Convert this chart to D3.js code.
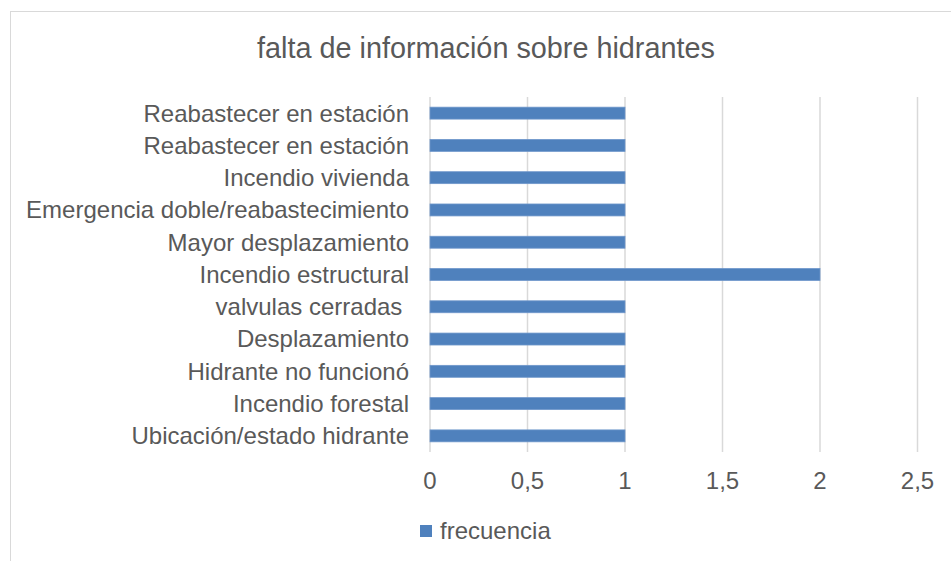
<!DOCTYPE html>
<html><head><meta charset="utf-8">
<script src="https://cdn.jsdelivr.net/npm/d3@7"></script>
<style>body{margin:0;background:#fff}svg{display:block}text{font-family:"Liberation Sans",Arial,sans-serif;white-space:pre}</style>
</head><body>
<svg id="c" width="951" height="561"></svg>
<script>
const categories = ["Reabastecer en estación","Reabastecer en estación","Incendio vivienda","Emergencia doble/reabastecimiento","Mayor desplazamiento","Incendio estructural","valvulas cerradas ","Desplazamiento","Hidrante no funcionó","Incendio forestal","Ubicación/estado hidrante"];
const values = [1,1,1,1,1,2,1,1,1,1,1];
const ticks = [0,0.5,1,1.5,2,2.5];
const title = "falta de información sobre hidrantes";
const seriesName = "frecuencia";

const svg = d3.select("#c");
svg.append("rect").attr("x",10.5).attr("y",11.5).attr("width",960).attr("height",600)
  .attr("fill","#fff").attr("stroke","#d9d9d9");
svg.append("text").attr("x",486).attr("y",58).attr("text-anchor","middle")
  .attr("font-size",28.8).attr("fill","#595959").text(title);

const x = d3.scaleLinear().domain([0,2.5]).range([430,917.5]);
const y = d3.scaleBand().domain(d3.range(categories.length)).range([97,452]).paddingInner(0.63).paddingOuter(0.315);

svg.append("g").selectAll("line").data(ticks).join("line")
  .attr("x1",d=>x(d)).attr("x2",d=>x(d)).attr("y1",97).attr("y2",452)
  .attr("stroke","#d9d9d9").attr("stroke-width",1.5);

svg.append("g").selectAll("rect").data(values).join("rect")
  .attr("x",x(0)).attr("y",(d,i)=>y(i)).attr("width",d=>x(d)-x(0)).attr("height",y.bandwidth())
  .attr("fill","#4f81bd").attr("stroke","#6f97cb").attr("stroke-width",0.8);

svg.append("g").selectAll("text").data(categories).join("text")
  .attr("x",409).attr("y",(d,i)=>y(i)+y.bandwidth()/2).attr("dy","0.35em")
  .attr("text-anchor","end").attr("font-size",24).attr("fill","#595959").text(d=>d);

svg.append("g").selectAll("text").data(ticks).join("text")
  .attr("x",d=>x(d)).attr("y",489).attr("text-anchor","middle")
  .attr("font-size",24).attr("fill","#595959").text(d=>String(d).replace(".",","));

svg.append("rect").attr("x",420).attr("y",525).attr("width",12).attr("height",12).attr("fill","#4f81bd");
svg.append("text").attr("x",440).attr("y",539).attr("font-size",24).attr("fill","#595959").text(seriesName);
</script>
</body></html>
